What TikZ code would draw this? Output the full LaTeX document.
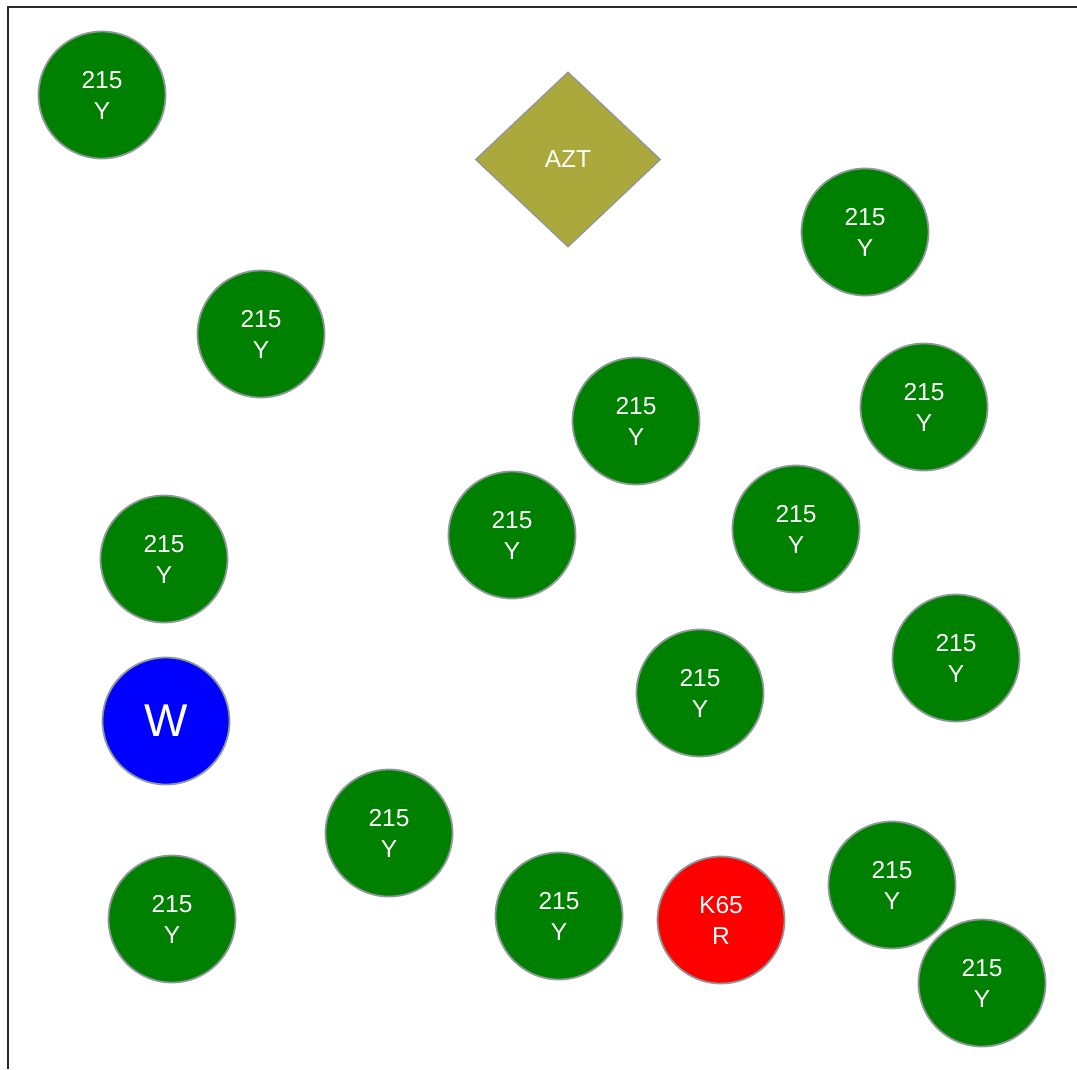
\documentclass[tikz,border=0pt]{standalone}
\usepackage{fontspec}
\setmainfont{Liberation Sans}
\usetikzlibrary{shapes.geometric}
\definecolor{gfill}{HTML}{008000}
\definecolor{olivefill}{HTML}{ABA83C}
\definecolor{strokegray}{HTML}{8E9898}
\definecolor{framecol}{HTML}{2A2A33}
\begin{document}
\begin{tikzpicture}[x=1pt,y=-1pt,
  ball/.style={circle, draw=strokegray, line width=1.8pt, minimum size=127pt, inner sep=0pt, text=white, font=\fontsize{24.5}{31}\selectfont, align=center},
  gball/.style={ball, fill=gfill},
  azt/.style={diamond, draw=strokegray, line width=1.4pt, fill=olivefill, minimum width=185pt, minimum height=175pt, inner sep=0pt, text=white, font=\fontsize{24.5}{28}\selectfont}]
\useasboundingbox (0,0) rectangle (1077,1069);
\draw[framecol, line width=2.6pt] (8,1069) -- (8,7) -- (1077,7);
\node[azt] (azt) at (568,159.5) {AZT};
\node[gball] (g1) at (102,95) {215\\Y};
\node[gball] (g2) at (865,232) {215\\Y};
\node[gball] (g3) at (261,334) {215\\Y};
\node[gball] (g4) at (636,421) {215\\Y};
\node[gball] (g5) at (924,407) {215\\Y};
\node[gball] (g6) at (164,559) {215\\Y};
\node[gball] (g7) at (512,535) {215\\Y};
\node[gball] (g8) at (796,529) {215\\Y};
\node[gball] (g9) at (956,658) {215\\Y};
\node[ball, fill=blue, font=\fontsize{46}{52}\selectfont] (w) at (166,721) {W};
\node[gball] (g10) at (700,693) {215\\Y};
\node[gball] (g11) at (389,833) {215\\Y};
\node[gball] (g12) at (172,919) {215\\Y};
\node[gball] (g13) at (559,916) {215\\Y};
\node[ball, fill=red] (k65) at (721,920) {K65\\R};
\node[gball] (g14) at (892,885) {215\\Y};
\node[gball] (g15) at (982,983) {215\\Y};
\end{tikzpicture}
\end{document}
